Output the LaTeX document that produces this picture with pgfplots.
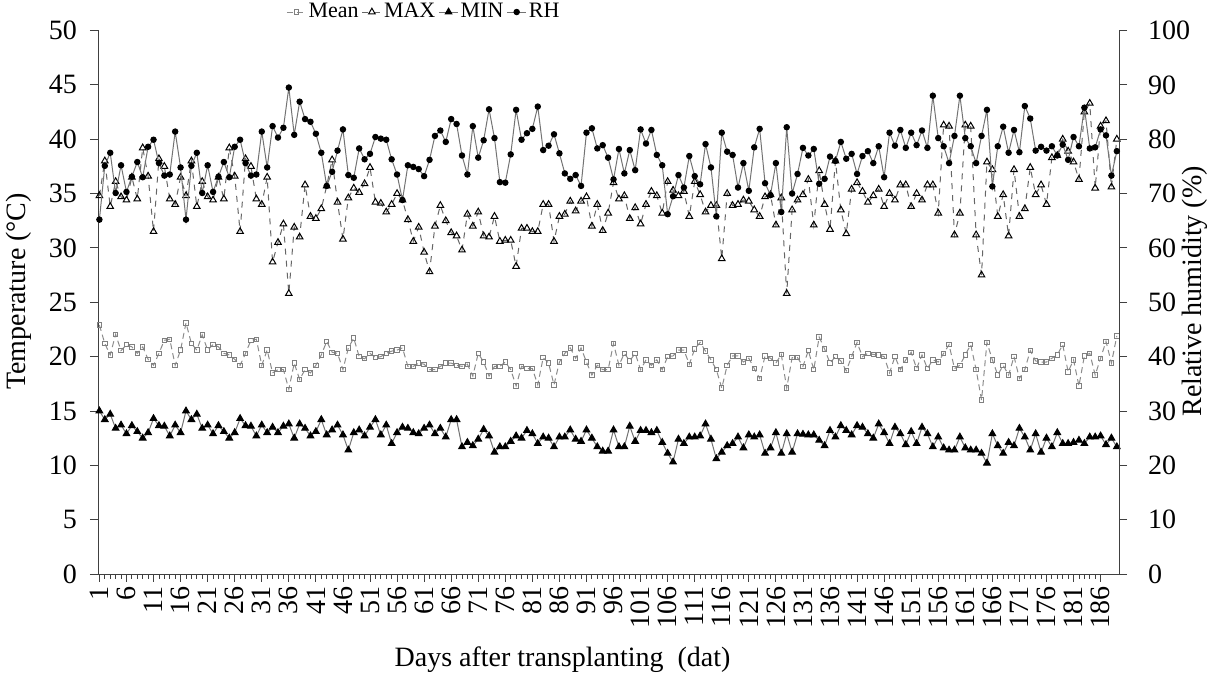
\documentclass[border=0pt]{standalone}
\usepackage{fontspec}
\setmainfont{Liberation Serif}
\usepackage{pgfplots}
\usepackage{pgfplotstable}
\pgfplotsset{compat=1.18}

% day, mean / max / min temperature (C), relative humidity (%)
\pgfplotstableread{
day mean max min rh
1 22.9 34.8 15.0 65.2
2 21.2 38.0 14.2 75.1
3 20.15 33.8 14.7 77.5
4 22.05 36.1 13.4 70.1
5 20.55 34.7 13.7 75.2
6 21.1 34.4 12.9 70.3
7 20.9 36.5 13.65 73.1
8 20.3 34.5 13.1 75.8
9 20.9 39.2 12.5 73.0
10 19.75 36.6 13.0 78.6
11 19.2 31.5 14.3 79.9
12 20.3 38.2 13.65 75.6
13 21.5 37.5 13.6 73.3
14 21.6 34.5 12.7 73.5
15 19.2 34.0 13.7 81.4
16 20.6 36.5 13.0 74.8
17 23.1 34.8 15.0 65.2
18 21.2 38.0 14.2 75.1
19 20.6 33.8 14.7 77.5
20 22.0 36.1 13.4 70.1
21 20.6 34.7 13.7 75.2
22 21.1 34.4 12.9 70.3
23 20.9 36.5 13.65 73.1
24 20.3 34.5 13.1 75.8
25 20.15 39.2 12.5 73.0
26 19.75 36.6 13.0 78.6
27 19.2 31.5 14.3 79.9
28 20.3 38.2 13.65 75.6
29 21.5 37.5 13.6 73.3
30 21.6 34.5 12.7 73.5
31 19.2 34.0 13.7 81.4
32 20.6 36.5 13.0 74.8
33 18.5 28.7 13.5 82.4
34 18.8 30.5 13.0 80.3
35 18.8 32.2 13.6 82.1
36 17.0 25.8 13.8 89.5
37 19.4 31.9 12.5 80.8
38 17.9 31.0 13.8 86.9
39 18.8 35.8 13.4 83.7
40 18.5 32.9 12.7 83.2
41 19.2 32.7 13.1 81.0
42 20.15 33.6 14.2 77.5
43 21.4 35.7 12.8 71.4
44 20.4 38.1 13.25 74.0
45 20.3 34.2 13.7 77.9
46 18.8 30.8 12.8 81.8
47 20.8 34.6 11.4 73.4
48 21.7 35.5 13.0 72.9
49 20.0 35.1 13.25 78.3
50 19.8 35.9 12.7 76.3
51 20.3 37.4 13.5 77.3
52 19.9 34.2 14.2 80.4
53 20.0 34.1 12.8 80.1
54 20.3 33.3 13.7 79.9
55 20.5 34.0 12.0 76.3
56 20.6 35.0 13.0 73.5
57 20.8 34.4 13.5 68.8
58 19.1 32.6 13.4 75.2
59 19.1 30.6 13.0 74.9
60 19.4 31.9 12.9 74.5
61 19.3 29.6 13.4 73.2
62 18.8 27.8 13.7 76.2
63 18.8 32.0 12.9 80.6
64 19.1 33.9 13.4 81.6
65 19.4 32.5 12.6 79.5
66 19.4 31.4 14.2 83.7
67 19.2 31.1 14.2 82.8
68 19.1 29.8 11.7 77.0
69 19.3 33.1 12.1 73.5
70 18.2 32.0 11.8 82.4
71 20.3 33.3 12.4 76.6
72 19.5 31.1 13.3 79.8
73 18.2 31.0 12.7 85.5
74 19.1 32.9 11.2 80.2
75 19.1 30.6 11.7 72.1
76 19.5 30.7 11.7 72.0
77 18.8 30.7 12.2 77.2
78 17.3 28.3 12.7 85.4
79 19.1 31.8 12.5 79.9
80 18.9 31.8 13.2 81.1
81 18.9 31.5 12.9 81.9
82 17.4 31.5 12.0 86.0
83 19.9 34.0 12.6 78.0
84 19.4 34.0 12.5 78.8
85 17.4 30.6 11.7 80.9
86 19.5 32.9 12.6 77.4
87 20.3 33.1 12.6 73.7
88 20.8 34.3 13.25 72.7
89 19.85 33.4 12.4 73.4
90 20.8 34.3 12.2 71.4
91 19.5 34.7 13.25 81.2
92 18.3 32.0 12.5 82.0
93 19.2 34.0 11.7 78.3
94 18.8 31.6 11.3 78.9
95 18.8 33.2 11.3 76.6
96 21.2 36.0 13.25 72.6
97 19.2 34.5 11.7 78.2
98 20.3 34.8 11.7 73.7
99 19.6 32.7 13.6 78.0
100 20.3 33.7 12.2 74.3
101 18.8 32.2 13.2 81.8
102 19.7 34.0 13.2 79.2
103 19.2 35.2 13.0 81.7
104 19.7 34.8 13.2 77.1
105 18.8 33.2 12.1 75.2
106 20.0 36.1 11.1 66.2
107 20.06 35.3 10.3 69.5
108 20.6 34.8 12.4 73.4
109 20.6 35.2 12.0 71.1
110 19.3 32.9 12.6 76.9
111 20.7 36.1 12.6 73.2
112 21.3 34.9 12.7 71.7
113 20.5 33.3 13.8 79.1
114 19.7 33.9 12.4 74.8
115 18.8 33.9 10.6 65.8
116 17.1 29.0 11.2 81.2
117 19.2 35.0 11.8 77.7
118 20.06 33.9 12.0 77.1
119 20.06 34.0 12.6 71.1
120 19.5 34.4 11.6 75.6
121 19.85 34.3 12.8 70.5
122 18.9 33.5 12.6 78.5
123 18.0 32.9 12.8 81.9
124 20.06 34.7 11.1 71.9
125 19.85 34.9 11.6 69.7
126 19.4 32.1 13.0 75.6
127 20.2 34.6 11.1 66.6
128 17.1 25.8 12.9 82.2
129 19.9 33.5 11.2 70.0
130 19.9 34.4 12.9 73.6
131 19.1 34.9 12.85 78.4
132 20.55 36.3 12.8 77.0
133 18.8 32.1 12.8 78.2
134 21.8 37.1 12.3 71.8
135 20.7 34.0 11.8 72.7
136 19.4 31.7 13.2 76.8
137 20.0 38.0 12.6 76.0
138 19.6 33.5 13.65 79.5
139 18.7 31.3 13.2 76.4
140 20.0 35.4 12.8 77.3
141 21.3 36.0 13.65 73.6
142 20.0 35.2 13.5 76.9
143 20.3 34.2 12.9 77.8
144 20.2 34.8 12.5 75.6
145 20.15 35.4 13.8 78.7
146 20.0 33.8 13.0 73.0
147 18.5 35.0 12.0 81.2
148 20.0 34.4 13.5 78.8
149 18.8 35.8 12.9 81.7
150 19.7 35.8 11.9 78.4
151 20.4 33.8 13.1 81.2
152 18.9 35.0 12.0 78.9
153 20.15 34.4 13.5 81.6
154 18.9 35.8 12.9 78.4
155 19.7 35.8 11.7 88.0
156 19.5 33.2 12.6 80.2
157 20.3 41.3 11.6 78.7
158 21.1 41.2 11.4 75.6
159 18.9 31.2 11.4 80.6
160 19.2 33.2 12.6 88.0
161 20.15 41.3 11.6 80.2
162 21.1 41.2 11.4 78.7
163 18.8 31.2 11.4 75.6
164 16.0 27.5 11.1 80.6
165 21.3 37.9 10.2 85.4
166 19.7 37.2 12.9 71.3
167 18.3 32.9 11.8 78.7
168 19.2 34.9 11.1 82.3
169 18.3 31.1 12.1 77.5
170 20.0 37.2 11.8 81.7
171 18.0 32.9 13.4 77.6
172 18.8 33.6 12.6 86.1
173 20.55 37.4 11.4 83.8
174 19.6 34.9 12.9 77.9
175 19.5 35.8 11.2 78.6
176 19.5 34.0 12.5 77.9
177 19.85 38.3 11.7 78.7
178 20.15 38.5 13.0 77.0
179 21.1 40.0 12.0 79.0
180 18.6 38.9 12.0 76.2
181 19.7 37.9 12.1 80.4
182 17.3 36.3 12.3 78.7
183 20.06 42.5 12.0 85.8
184 20.3 43.3 12.6 78.3
185 18.3 35.5 12.6 78.5
186 19.85 41.2 12.7 81.8
187 21.4 41.7 11.9 80.7
188 19.4 35.6 12.5 73.3
189 21.9 40.0 11.7 77.8
}\climate

\pgfplotsset{
  meanstyle/.style={black!45, line width=0.5pt, densely dashed, mark=square, mark size=1.1pt, mark options={solid, draw=black!50, fill=white}},
  maxstyle/.style={black!60, line width=0.5pt, dashed, mark=triangle, mark size=1.9pt, mark options={solid, draw=black, fill=white}},
  minstyle/.style={black!55, line width=0.5pt, mark=triangle*, mark size=1.9pt, mark options={solid, black}},
  rhstyle/.style={black!55, line width=0.5pt, mark=*, mark size=1.35pt, mark options={solid, black}},
  legend image code/.code={\draw[mark repeat=2,mark phase=2] plot coordinates {(0cm,0cm) (0.17cm,0cm) (0.34cm,0cm)};},
}

\begin{document}
\begin{tikzpicture}[font=\fontsize{14}{16}\selectfont]
\path[use as bounding box] (-49pt,-49.5pt) rectangle (556.5pt,287pt);

\begin{axis}[
  at={(0,0)}, anchor=south west,
  scale only axis, width=510.5pt, height=271.75pt,
  xmin=0.74, xmax=189.4,
  ymin=0, ymax=50,
  axis x line*=bottom, axis y line*=left,
  axis line style={-, black!75},
  every tick/.style={black!75},
  tick align=outside,
  major tick length=4pt, minor tick length=2.5pt,
  xtick={1,6,...,186},
  minor x tick num=4,
  ytick={0,5,...,50},
  xticklabel style={rotate=90, anchor=east, inner sep=2pt},
  yticklabel style={xshift=-3pt},
  /pgf/number format/assume math mode=true,
  ylabel={Temperature (°C)},
  ylabel style={at={(axis description cs:-0.078,0.52)}, anchor=center},
  xlabel={Days after transplanting\ \ (dat)},
  xlabel style={at={(axis description cs:0.455,-0.158)}, anchor=center},
  legend style={draw=none, fill=none, at={(axis description cs:0.184,1.034)}, anchor=west,
    legend columns=-1, font=\fontsize{11}{13}\selectfont,
    nodes={inner xsep=1pt},
    /tikz/every even column/.append style={column sep=0.5pt},
    inner sep=0pt},
  legend cell align=left,
]
\addplot[meanstyle] table[x=day, y=mean] {\climate};
\addlegendentry{Mean}
\addplot[maxstyle] table[x=day, y=max] {\climate};
\addlegendentry{MAX}
\addplot[minstyle] table[x=day, y=min] {\climate};
\addlegendentry{MIN}
\addlegendimage{rhstyle}
\addlegendentry{RH}
\end{axis}

\begin{axis}[
  at={(0,0)}, anchor=south west,
  scale only axis, width=510.5pt, height=271.75pt,
  xmin=0.74, xmax=189.4,
  ymin=0, ymax=100,
  axis x line=none, axis y line*=right,
  axis line style={-, black!75},
  every tick/.style={black!75},
  tick align=outside,
  major tick length=4pt,
  ytick={0,10,...,100},
  yticklabel style={xshift=7pt},
  /pgf/number format/assume math mode=true,
  ylabel={Relative humidity (\%)},
  ylabel style={at={(axis description cs:1.0745,0.52)}, anchor=center, rotate=0},
]
\addplot[rhstyle] table[x=day, y=rh] {\climate};
\end{axis}
\end{tikzpicture}
\end{document}
